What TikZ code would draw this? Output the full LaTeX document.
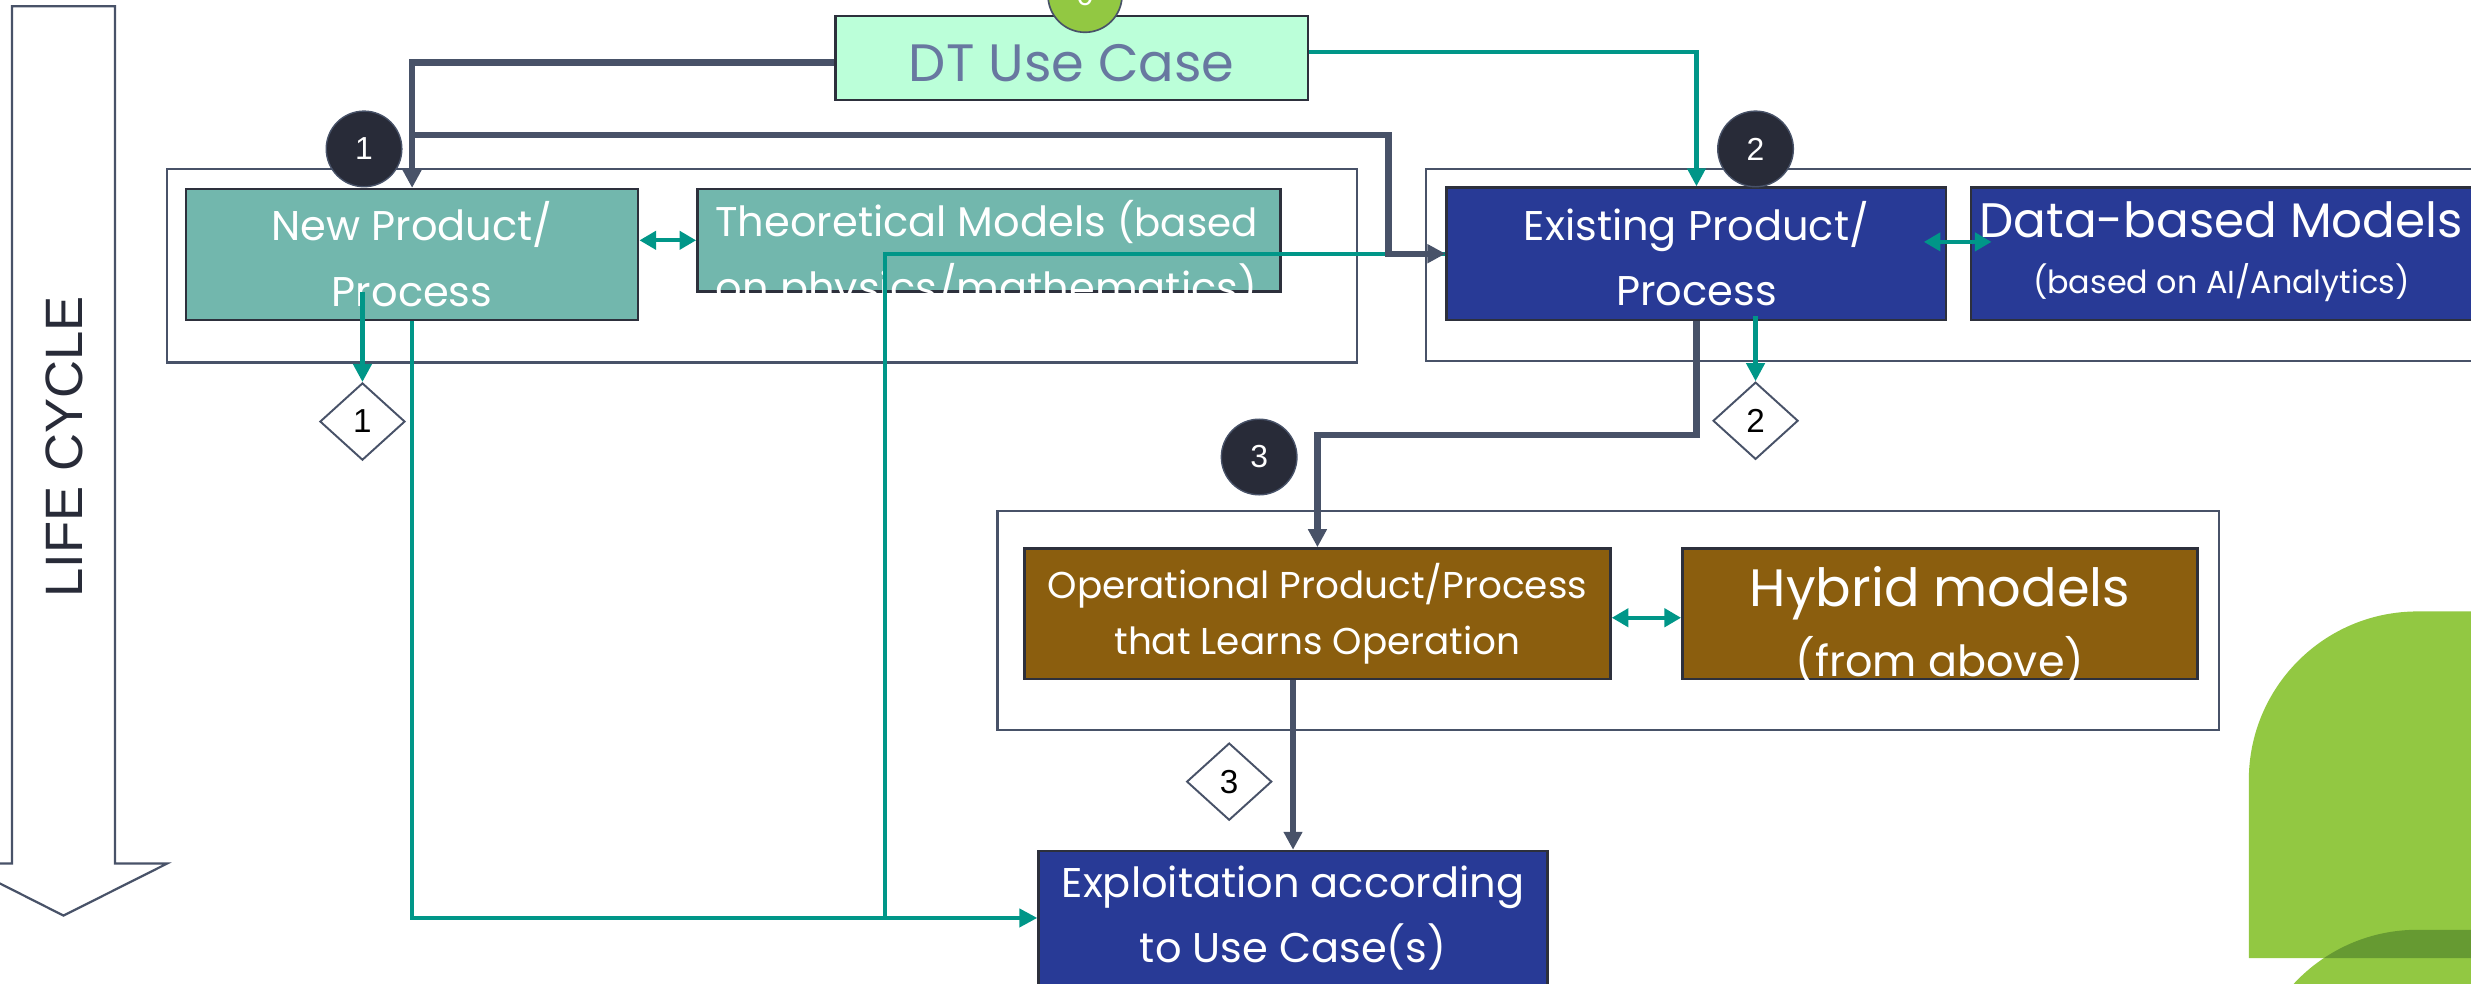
\documentclass[tikz,border=0pt]{standalone}
\usepackage{fontspec}
\setmainfont{Poppins}
\newfontfamily\digitfont{Liberation Sans}
\usetikzlibrary{arrows.meta, calc, fit, positioning, shapes.geometric}

\definecolor{mintfill}{RGB}{187,255,217}
\definecolor{minttext}{RGB}{104,120,160}
\definecolor{tealfill}{RGB}{114,183,173}
\definecolor{navyfill}{RGB}{40,58,150}
\definecolor{brownfill}{RGB}{139,94,14}
\definecolor{tealline}{RGB}{0,150,136}
\definecolor{slateline}{RGB}{72,82,104}
\definecolor{boxedge}{RGB}{45,48,60}
\definecolor{badgefill}{RGB}{40,43,56}
\definecolor{leafgreen}{RGB}{146,200,66}
\definecolor{leafdark}{RGB}{102,154,50}

\begin{document}
\begin{tikzpicture}[x=0.02cm, y=-0.02cm, node distance=.8cm,
		model_box/.style={draw=boxedge, line width=0.9pt, inner sep=0pt, text=white, align=center},
		group_box/.style={draw=slateline, line width=0.8pt, inner sep=0pt},
		teal_link/.style={draw=tealline, line width=1.5pt},
		slate_link/.style={draw=slateline, line width=2.3pt},
		one_tip/.style={-{Triangle[length=6.5pt, width=6.5pt]}},
		two_tips/.style={{Triangle[length=6pt, width=6.5pt]}-{Triangle[length=6pt, width=6.5pt]}},
		badge/.style={circle, fill=badgefill, draw=slateline, line width=0.5pt, minimum size=0.96cm, inner sep=0pt, text=white, font=\digitfont\fontsize{11.5}{11.5}\selectfont},
		gate/.style={diamond, draw=slateline, fill=white, line width=0.7pt, minimum width=1.08cm, minimum height=0.98cm, inner sep=0pt, font=\digitfont\fontsize{12}{12}\selectfont}]
	\useasboundingbox (0,0) rectangle (1568,624);

	% life cycle arrow
	\draw[draw=slateline, line width=0.8pt] (7.6,4) -- (73,4) -- (73,548) -- (106,548) -- (40.3,581) -- (-25,548) -- (7.6,548) -- cycle;
	\node[rotate=90, text=badgefill, font=\digitfont\fontsize{19}{19}\selectfont] (life_cycle) at (40.7,283.5) {LIFE CYCLE};

	% green corner
	\fill[leafgreen] (1427,608) -- (1427,495) arc[start angle=180, end angle=270, radius=107] -- (1600,388) -- (1600,608) -- cycle;
	\fill[leafgreen] (1427,720) -- (1427,697) arc[start angle=180, end angle=270, radius=107] -- (1600,590) -- (1600,720) -- cycle;
	\begin{scope}
		\clip (1427,608) -- (1427,495) arc[start angle=180, end angle=270, radius=107] -- (1600,388) -- (1600,608) -- cycle;
		\fill[leafdark] (1427,720) -- (1427,697) arc[start angle=180, end angle=270, radius=107] -- (1600,590) -- (1600,720) -- cycle;
	\end{scope}

	% groups
	\node[group_box, fit={(106,107) (861,230)}] (group_one) {};
	\node[group_box, fit={(905,107) (1580,229)}] (group_two) {};
	\node[group_box, fit={(633,324.5) (1408,463)}] (group_three) {};

	% new product
	\node[model_box, fill=tealfill, minimum width=5.74cm, minimum height=1.66cm, font=\fontsize{15}{23.8}\selectfont] (new_product) at (261.5,161.5) {New Product/\\Process};
	\node[model_box, fill=tealfill, minimum width=7.4cm, minimum height=1.3cm, right=0.72cm of new_product.north east, anchor=north west] (theory_models) {};
	\begin{scope}
		\clip (theory_models.south west) rectangle (theory_models.north east);
		\node[anchor=base, text=white, font=\fontsize{15}{15}\selectfont] (theory_line_one) at (626,150) {Theoretical Models {\fontsize{14}{14}\selectfont(based}};
		\node[anchor=base, text=white, font=\fontsize{15}{15}\selectfont] (theory_line_two) at (626,192) {on physics/mathematics)};
	\end{scope}

	% existing product
	\node[model_box, fill=navyfill, minimum width=6.34cm, minimum height=1.68cm, font=\fontsize{15}{23.6}\selectfont] (existing_product) at (1076.5,161) {Existing Product/\\Process};
	\node[model_box, fill=navyfill, minimum width=6.36cm, minimum height=1.68cm, right=0.28cm of existing_product] (data_models) {};
	\node[anchor=base, text=white, font=\fontsize{17.5}{17.5}\selectfont] (data_line_one) at (data_models.center |- 0,151) {Data-based Models};
	\node[anchor=base, text=white, font=\fontsize{11.5}{11.5}\selectfont] (data_line_two) at (data_models.center |- 0,186) {(based on AI/Analytics)};

	% operational product
	\node[model_box, fill=brownfill, minimum width=7.44cm, minimum height=1.66cm, font=\fontsize{13.5}{20.5}\selectfont] (operational_product) at (836,389.5) {Operational Product/Process\\that Learns Operation};
	\node[model_box, fill=brownfill, minimum width=6.54cm, minimum height=1.66cm, right=0.88cm of operational_product] (hybrid_models) {};
	\begin{scope}
		\clip (hybrid_models.south west) rectangle (hybrid_models.north east);
		\node[anchor=base, text=white, font=\fontsize{19}{19}\selectfont] (hybrid_line_one) at (hybrid_models.center |- 0,385) {Hybrid models};
		\node[anchor=base, text=white, font=\fontsize{15.5}{15.5}\selectfont] (hybrid_line_two) at (hybrid_models.center |- 0,429.4) {(from above)};
	\end{scope}

	% exploitation
	\node[model_box, fill=navyfill, minimum width=6.46cm, minimum height=1.7cm, font=\fontsize{15}{23.3}\selectfont] (exploitation) at (820.5,582.5) {Exploitation according\\to Use Case(s)};

	% use case
	\node[model_box, fill=mintfill, text=minttext, minimum width=6cm, minimum height=1.07cm, text height=17pt, text depth=0pt, font=\fontsize{19}{19}\selectfont] (use_case) at (680,36.75) {DT Use Case};
	\node[circle, fill=leafgreen, draw=slateline, line width=0.6pt, minimum size=0.94cm, inner sep=0pt, text=white, font=\digitfont\fontsize{11}{11}\selectfont] (stage_zero) at (688.5,-3) {0};

	% diamonds
	\node[gate] (gate_one) at (230,267.5) {1};
	\node[gate] (gate_two) at (1114,267) {2};
	\node[gate] (gate_three) at (780,496) {3};

	% teal links
	\coordinate (drop_one) at (230,185);
	\coordinate (drop_two) at (1114,200.5);
	\coordinate (bend_two) at (561.5,582.5);
	\draw[teal_link, one_tip] ([yshift=0.07cm]use_case.east) -| (existing_product.north);
	\draw[teal_link] (existing_product.west) -| (bend_two);
	\draw[teal_link, one_tip] (new_product.south) |- (exploitation.west);
	\draw[teal_link, one_tip] (drop_one) -- (gate_one.north);
	\draw[teal_link, one_tip] (drop_two) -- (gate_two.north);
	\draw[teal_link, two_tips] (new_product.east |- theory_models.west) -- (theory_models.west);
	\draw[teal_link, two_tips] ([shift={(-0.3cm,0.15cm)}]existing_product.east) -- ([shift={(0.28cm,0.15cm)}]data_models.west);
	\draw[teal_link, two_tips] ([yshift=-0.05cm]operational_product.east) -- ([yshift=-0.05cm]hybrid_models.west);

	% slate links
	\coordinate (split_one) at (261.5,85.7);
	\coordinate (bend_one) at (881,85.7);
	\coordinate (bend_three) at (836,276);
	\draw[slate_link, one_tip] ([yshift=-0.06cm]use_case.west) -| (new_product.north);
	\draw[slate_link, one_tip] (split_one) -- (bend_one) |- (existing_product.west);
	\draw[slate_link, one_tip] (existing_product.south) |- (bend_three) -- (operational_product.north);
	\draw[slate_link, one_tip] (operational_product.south -| exploitation.north) -- (exploitation.north);

	% badges
	\node[badge] (badge_one) at (231,94.5) {1};
	\node[badge] (badge_two) at (1114,94.5) {2};
	\node[badge] (badge_three) at (799,290) {3};
\end{tikzpicture}
\end{document}
